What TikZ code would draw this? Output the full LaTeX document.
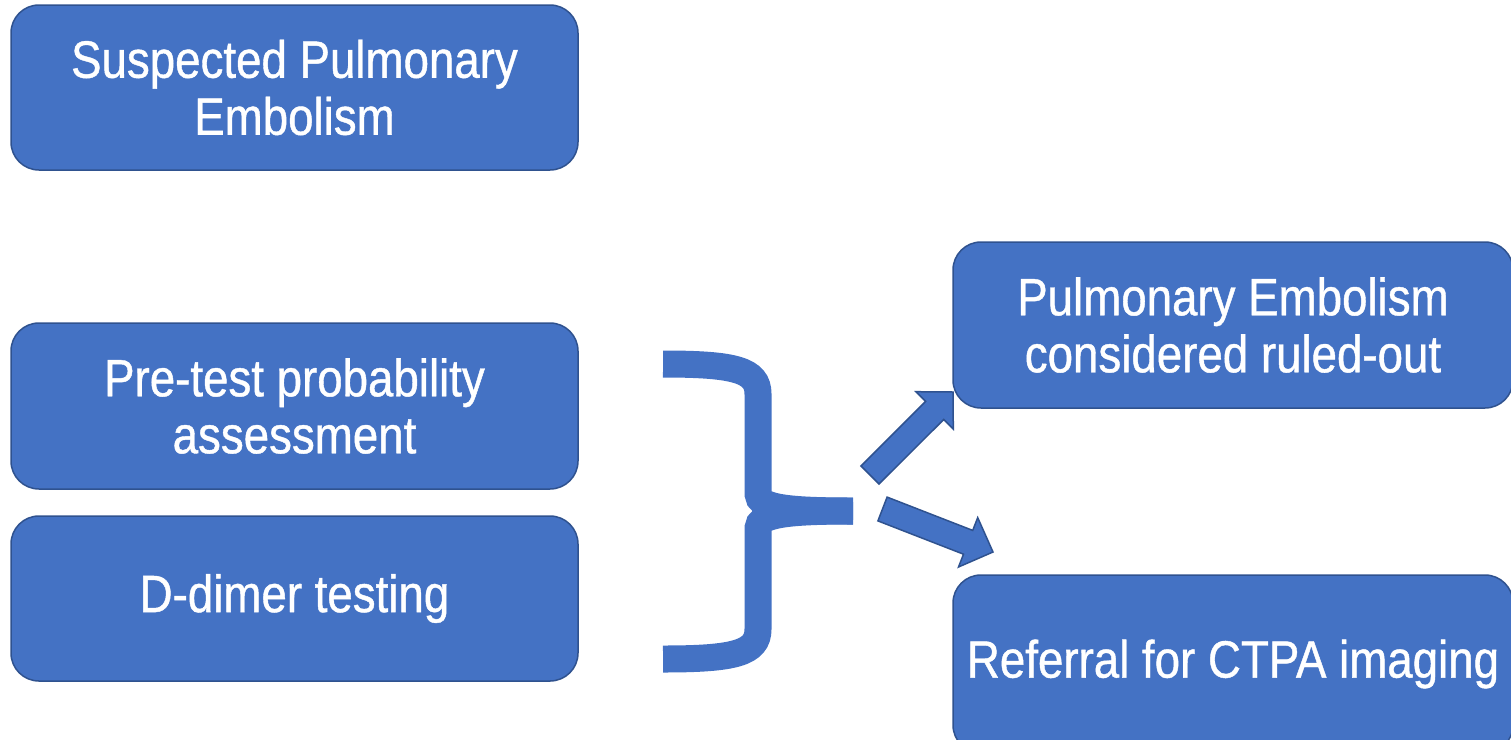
\documentclass[tikz,border=0pt]{standalone}
\usepackage{fontspec}
\setmainfont{Liberation Sans}[FakeStretch=0.87,FakeBold=0.8]
\definecolor{boxblue}{HTML}{4472C4}
\definecolor{edgeblue}{HTML}{2F528F}
\begin{document}
\begin{tikzpicture}[x=1pt,y=-1pt,
  box/.style={draw=edgeblue, fill=boxblue, line width=1.5pt, rounded corners=28pt,
    text=white, font=\fontsize{52.5}{57}\selectfont, align=center, inner sep=0pt},
  bracestroke/.style={draw=boxblue, line width=27pt},
  blockarrow/.style={draw=edgeblue, fill=boxblue, line width=1.5pt, line join=miter}]
\useasboundingbox (0,0) rectangle (1511,739);

\node[box, minimum width=567pt, minimum height=165pt] (s) at (294.5,87.5) {Suspected Pulmonary\\Embolism};
\node[box, minimum width=567pt, minimum height=166pt] (p) at (294.5,406) {Pre-test probability\\assessment};
\node[box, minimum width=567pt, minimum height=165pt] (d) at (294.5,598.5) {D-dimer testing};
\node[box, minimum width=560pt, minimum height=166pt] (r) at (1233,325) {Pulmonary Embolism\\considered ruled-out};
\node[box, minimum width=560pt, minimum height=178pt] (c) at (1233,664) {Referral for CTPA imaging};

% brace
\draw[bracestroke] (663,364) .. controls (735,364) and (758,370) .. (758,394) -- (758,494)
  .. controls (758,508) and (790,511) .. (853,511);
\draw[bracestroke] (663,659) .. controls (735,659) and (758,653) .. (758,629) -- (758,528)
  .. controls (758,514) and (790,511) .. (853,511);

% block arrows
\draw[blockarrow] (879.0,484.0) -- (943.7,419.5) -- (953.3,429.1) -- (953,392)
  -- (915.9,391.7) -- (925.6,401.4) -- (861.0,466.0) -- cycle;
\draw[blockarrow] (887.1,497.1) -- (972.7,530.4) -- (977.7,517.6) -- (993,552)
  -- (958.5,567.0) -- (963.5,554.2) -- (877.9,520.9) -- cycle;
\end{tikzpicture}
\end{document}
